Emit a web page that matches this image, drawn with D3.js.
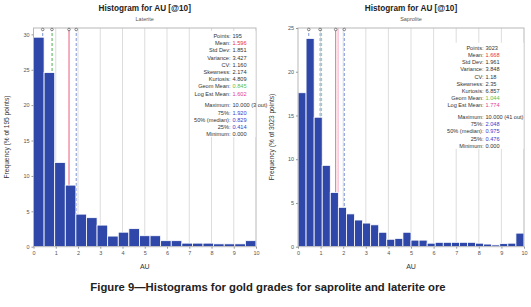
<!DOCTYPE html>
<html lang="en">

<head>
  <meta charset="UTF-8">
  <title>Figure 9</title>
  <style>
    html,
    body {
      margin: 0;
      background: #fff;
    }

    svg {
      display: block;
      font-family: "Liberation Sans", Arial, sans-serif;
    }
  </style>
</head>

<body>
  <div id="main"></div>

  <script src="https://cdn.jsdelivr.net/npm/d3@7/dist/d3.min.js"></script>

  <script>
    // 数据 (frequency % per bin, bins span 0..10)
    const lateriteFreq = [29.6, 24.6, 11.9, 8.7, 4.6, 4.1, 3.05, 1.5, 2.05, 2.55, 1.55, 1.55, 0.85, 0.85, 0.5, 0.5, 0.5, 0.4, 0.4, 0.4, 0.85]
    const saproliteFreq = [17.6, 23.8, 14.8, 9.3, 6.2, 4.5, 3.75, 3.05, 2.7, 2.5, 1.65, 0.85, 0.95, 1.65, 0.75, 0.75, 0.4, 0.5, 0.5, 0.5, 0.5, 0.5, 0.4, 0.3, 0.2, 0.35, 0.4, 1.55]
    const xTicks = [0, 1, 2, 3, 4, 5, 6, 7, 8, 9, 10]
    const lateriteYTicks = [0, 5, 10, 15, 20, 25, 30]
    const saproliteYTicks = [0, 5, 10, 15, 20, 25]

    const statLabels = ['Points:', 'Mean:', 'Std Dev:', 'Variance:', 'CV:', 'Skewness:', 'Kurtosis:', 'Geom Mean:', 'Log Est Mean:', 'Maximum:', '75%:', '50% (median):', '25%:', 'Minimum:']
    const lateriteStats = ['195', '1.596', '1.851', '3.427', '1.160', '2.174', '4.809', '0.845', '1.602', '10.000 (3 out)', '1.920', '0.829', '0.414', '0.000']
    const saproliteStats = ['3023', '1.668', '1.961', '3.848', '1.18', '2.35', '6.857', '1.044', '1.774', '10.000 (41 out)', '2.048', '0.975', '0.476', '0.000']

    // stat lines: 25%, median, geom mean, mean, log est mean, 75%
    const lateriteLines = [0.414, 0.829, 0.845, 1.596, 1.602, 1.920]
    const saproliteLines = [0.476, 0.975, 1.044, 1.668, 1.774, 2.048]

    const W = 531, H = 307
    const svg = d3.select('#main').append('svg').attr('width', W).attr('height', H)

    const statColor = ['#333', '#e8303a', '#333', '#333', '#333', '#333', '#333', '#5cc04a', '#e0409a', '#333', '#3a3ad0', '#3a3ad0', '#3a3ad0', '#333']
    const lineStyle = [
      { c: '#7f95d6', dash: '3,2' },
      { c: '#8ab0c8', dash: '3,2' },
      { c: '#8fd08a', dash: '3,2' },
      { c: '#e86a78', dash: null },
      { c: '#f4a6c8', dash: null },
      { c: '#7f95d6', dash: '3,2' }
    ]

    function panel(cfg) {
      const g = svg.append('g')
      const x = d3.scaleLinear().domain([0, 10]).range([cfg.x0, cfg.x1])
      const y = d3.scaleLinear().domain([0, cfg.yMax]).range([246.7, 28])
      const bw = 10 / cfg.freq.length

      // 标题
      g.append('text').attr('x', (cfg.x0 + cfg.x1) / 2).attr('y', 11)
        .attr('text-anchor', 'middle').attr('font-size', 8.2).attr('font-weight', 'bold')
        .attr('fill', '#222').text('Histogram for AU [@10]')
      g.append('text').attr('x', (cfg.x0 + cfg.x1) / 2).attr('y', 21)
        .attr('text-anchor', 'middle').attr('font-size', 5.5).attr('fill', '#555').text(cfg.sub)

      // grid
      g.selectAll('.grid').data(xTicks.slice(1, -1)).join('line')
        .attr('x1', d => x(d)).attr('x2', d => x(d)).attr('y1', 28).attr('y2', 246.7)
        .attr('stroke', '#d4d4d4').attr('stroke-width', 0.8)

      // stat lines (behind bars)
      g.selectAll('.sl').data(cfg.lines).join('line')
        .attr('x1', d => x(d)).attr('x2', d => x(d)).attr('y1', 28).attr('y2', 246.7)
        .attr('stroke', (d, i) => lineStyle[i].c).attr('stroke-width', 1)
        .attr('stroke-dasharray', (d, i) => lineStyle[i].dash)

      // bars
      g.selectAll('rect.bar').data(cfg.freq).join('rect').attr('class', 'bar')
        .attr('x', (d, i) => x(i * bw)).attr('width', (d, i) => x((i + 1) * bw) - x(i * bw))
        .attr('y', d => y(d)).attr('height', d => y(0) - y(d))
        .attr('fill', '#2e47a8').attr('stroke', '#fff').attr('stroke-width', 0.8)

      // frame
      g.append('rect').attr('x', cfg.x0).attr('y', 28).attr('width', cfg.x1 - cfg.x0).attr('height', 246.7 - 28)
        .attr('fill', 'none').attr('stroke', '#b8b8b8').attr('stroke-width', 1)

      // markers along top
      g.selectAll('.mk').data([cfg.lines[0], cfg.lines[1], cfg.lines[3], cfg.lines[5]]).join('circle')
        .attr('cx', d => x(d)).attr('cy', 29.5).attr('r', 1.3)
        .attr('fill', '#fff').attr('stroke', '#555').attr('stroke-width', 0.7)

      // axes
      const xAxis = g.append('g').attr('transform', 'translate(0,246.7)')
        .call(d3.axisBottom(x).tickValues(xTicks).tickSize(2).tickPadding(2))
      const yAxis = g.append('g').attr('transform', `translate(${cfg.x0},0)`)
        .call(d3.axisLeft(y).tickValues(cfg.yTicks).tickSize(2).tickPadding(2))
      ;[xAxis, yAxis].forEach(a => {
        a.select('.domain').remove()
        a.selectAll('line').attr('stroke', '#999')
        a.selectAll('text').attr('font-size', 5.5).attr('fill', '#555').attr('font-family', null)
      })

      g.append('text').attr('x', (cfg.x0 + cfg.x1) / 2).attr('y', 269)
        .attr('text-anchor', 'middle').attr('font-size', 7).attr('fill', '#333').text('AU')
      g.append('text').attr('transform', `translate(${cfg.yl},137) rotate(-90)`)
        .attr('text-anchor', 'middle').attr('font-size', 6.6).attr('fill', '#333')
        .text(`Frequency (% of ${cfg.stats[0]} points)`)

      // 统计框
      const rowY = i => cfg.sy + i * 7.2 + (i >= 9 ? 4.5 : 0)
      g.append('rect').attr('x', cfg.cx - 40).attr('y', cfg.sy - 5).attr('width', cfg.x1 - cfg.cx + 39.5)
        .attr('height', rowY(13) - cfg.sy + 8).attr('fill', '#fff')
      const st = g.selectAll('.st').data(statLabels).join('g')
        .attr('transform', (d, i) => `translate(0,${rowY(i) + 2})`)
      st.append('text').attr('x', cfg.cx).attr('text-anchor', 'end')
        .attr('font-size', 5.6).attr('fill', '#333').text(d => d)
      st.append('text').attr('x', cfg.cx + 2).attr('font-size', 5.6)
        .attr('fill', (d, i) => statColor[i]).text((d, i) => cfg.stats[i])
    }

    panel({ x0: 33.5, x1: 256, yMax: 30.9, freq: lateriteFreq, yTicks: lateriteYTicks, sub: 'Laterite', stats: lateriteStats, lines: lateriteLines, cx: 230.5, sy: 36, yl: 9 })
    panel({ x0: 298, x1: 524, yMax: 25, freq: saproliteFreq, yTicks: saproliteYTicks, sub: 'Saprolite', stats: saproliteStats, lines: saproliteLines, cx: 483.5, sy: 47.7, yl: 274 })

    // caption
    svg.append('text').attr('x', 268).attr('y', 291).attr('text-anchor', 'middle')
      .attr('font-size', 11.3).attr('font-weight', 'bold').attr('fill', '#222')
      .text('Figure 9\u2014Histograms for gold grades for saprolite and laterite ore')
  </script>
</body>

</html>
